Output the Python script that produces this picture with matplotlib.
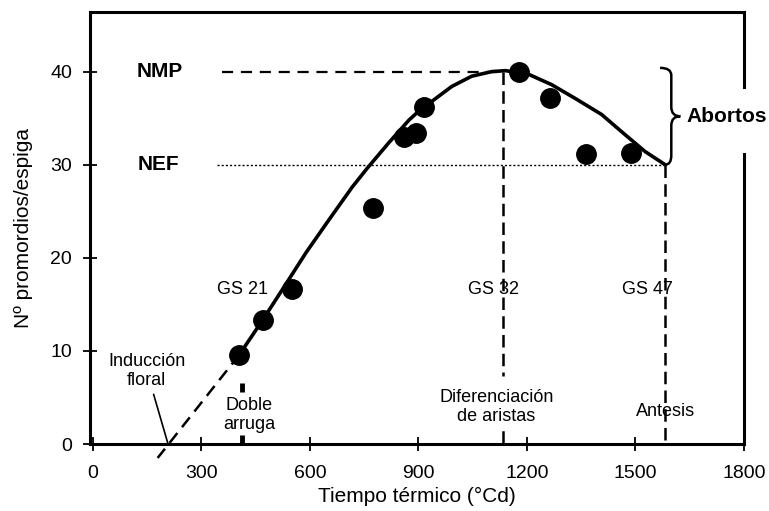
# -*- coding: utf-8 -*-
"""
Primordios por espiga frente al tiempo térmico (trigo).
"""

import matplotlib.pyplot as plt
from matplotlib.path import Path
from matplotlib.patches import PathPatch, Rectangle

plt.rcParams['font.family'] = ['Liberation Sans', 'DejaVu Sans']

# Puntos medidos
tiempo = [405, 469, 551, 775, 860, 893, 915, 1177, 1265, 1364, 1488]
primordios = [9.6, 13.3, 16.6, 25.3, 33.0, 33.4, 36.2, 40.0, 37.2, 31.2, 31.3]

# Curva ajustada
curva_x = [405, 469, 524, 590, 653, 717, 758, 819, 874, 905, 937, 992, 1047,
           1103, 1141, 1205, 1268, 1334, 1406, 1472, 1527, 1582]
curva_y = [9.6, 13.3, 16.6, 20.6, 24.1, 27.6, 29.6, 32.4, 34.8, 35.9, 36.8,
           38.4, 39.5, 40.0, 40.1, 39.7, 38.6, 37.1, 35.4, 33.2, 31.4, 30.0]

# Extrapolacion hasta la induccion floral
extra_x = [405, 179]
extra_y = [9.6, -1.5]

# Niveles y estadios
NMP = 40
NEF = 30
t_induccion = 210
t_doble_arruga = 413
t_gs32 = 1133
t_gs47 = 1582

x_ticks = [0, 300, 600, 900, 1200, 1500, 1800]
y_ticks = [0, 10, 20, 30, 40]

fig = plt.figure(figsize=(7.69, 5.11), dpi=100)
ax = fig.add_axes([90 / 769, 67 / 511, 654 / 769, 432 / 511])

# Curva y extrapolacion
ax.plot(curva_x, curva_y, c='black', lw=2.6, solid_capstyle='round',
        solid_joinstyle='round', zorder=4)
ax.plot(extra_x, extra_y, c='black', lw=1.8, ls=(0, (5, 3)), clip_on=False,
        zorder=4)

# Puntos
ax.plot(tiempo, primordios, 'o', c='black', ms=14, zorder=5)

# Lineas de NMP y NEF
ax.plot([358, t_gs32], [NMP, NMP], c='black', lw=1.6, ls=(0, (5, 3.5)))
ax.plot([342, t_gs47], [NEF, NEF], c='black', lw=1.0, ls=(0, (1.5, 1.5)))

# Lineas verticales de estadios
ax.plot([t_gs32, t_gs32], [NMP, 7.3], c='black', lw=1.8, ls=(0, (5, 2.5)))
ax.plot([t_gs32, t_gs32], [1.3, 0], c='black', lw=1.8)
ax.plot([t_gs47, t_gs47], [NEF, 0], c='black', lw=1.8, ls=(0, (5, 2.5)))

# Marcas de doble arruga
ax.plot([t_doble_arruga, t_doble_arruga], [6.6, 5.6], c='black', lw=3.5,
        solid_capstyle='butt')
ax.plot([t_doble_arruga, t_doble_arruga], [1.0, 0], c='black', lw=3.5,
        solid_capstyle='butt')

# Textos
ax.text(121, NMP, 'NMP', fontsize=15, fontweight='bold', va='center')
ax.text(124, NEF, 'NEF', fontsize=15, fontweight='bold', va='center')
ax.text(413, 16.6, 'GS 21', fontsize=13, ha='center', va='center')
ax.text(1108, 16.6, 'GS 32', fontsize=13, ha='center', va='center')
ax.text(1532, 16.6, 'GS 47', fontsize=13, ha='center', va='center')
ax.text(433, 3.1, 'Doble\narruga', fontsize=13, ha='center', va='center',
        linespacing=1.15)
ax.text(1116, 4.0, 'Diferenciación\nde aristas', fontsize=13, ha='center',
        va='center', linespacing=1.15)
ax.text(1582, 3.5, 'Antesis', fontsize=13, ha='center', va='center')
ax.annotate('Inducción\nfloral', xy=(t_induccion - 3, 0.1), xytext=(149, 7.85),
            fontsize=13, ha='center', va='center', linespacing=1.15,
            arrowprops=dict(arrowstyle='-', lw=1.2, color='black',
                            shrinkA=2, shrinkB=0))

# Llave de abortos
bx = t_gs47 + 17
punta = (NMP + NEF) / 2 + 0.2
verts = [(t_gs47 - 14, NMP + 0.4), (bx, NMP + 0.4), (bx, NMP - 0.4),
         (bx, punta + 1.0), (bx, punta), (bx + 25, punta),
         (bx, punta), (bx, punta - 1.0),
         (bx, NEF + 1.0), (bx, NEF), (t_gs47, NEF)]
codes = [Path.MOVETO, Path.CURVE3, Path.CURVE3,
         Path.LINETO, Path.CURVE3, Path.CURVE3,
         Path.CURVE3, Path.CURVE3,
         Path.LINETO, Path.CURVE3, Path.CURVE3]
ax.add_patch(PathPatch(Path(verts, codes), fc='none', ec='black', lw=1.8,
                       clip_on=False, zorder=4))

# Hueco en el eje derecho para el texto
ax.add_patch(Rectangle((0.985, 31.3), 0.03, 6.8,
                       transform=ax.get_yaxis_transform(), fc='white',
                       ec='none', clip_on=False, zorder=3))
ax.text(1640, punta, 'Abortos', fontsize=15, fontweight='bold', va='center',
        zorder=6)

# Ejes
ax.set_xlim(-8, 1794)
ax.set_ylim(0, 46.4)
ax.set_xticks(x_ticks)
ax.set_yticks(y_ticks)
for sp in ax.spines.values():
    sp.set_linewidth(2.2)
ax.tick_params(direction='inout', length=10, width=1.3, labelsize=14)
ax.tick_params(axis='x', pad=10)
ax.tick_params(axis='y', pad=8)

ax.set_xlabel('Tiempo térmico (°Cd)', fontsize=15, labelpad=4)
ax.set_ylabel('Nº promordios/espiga', fontsize=15, labelpad=12)

plt.savefig('out.png', dpi=100)
